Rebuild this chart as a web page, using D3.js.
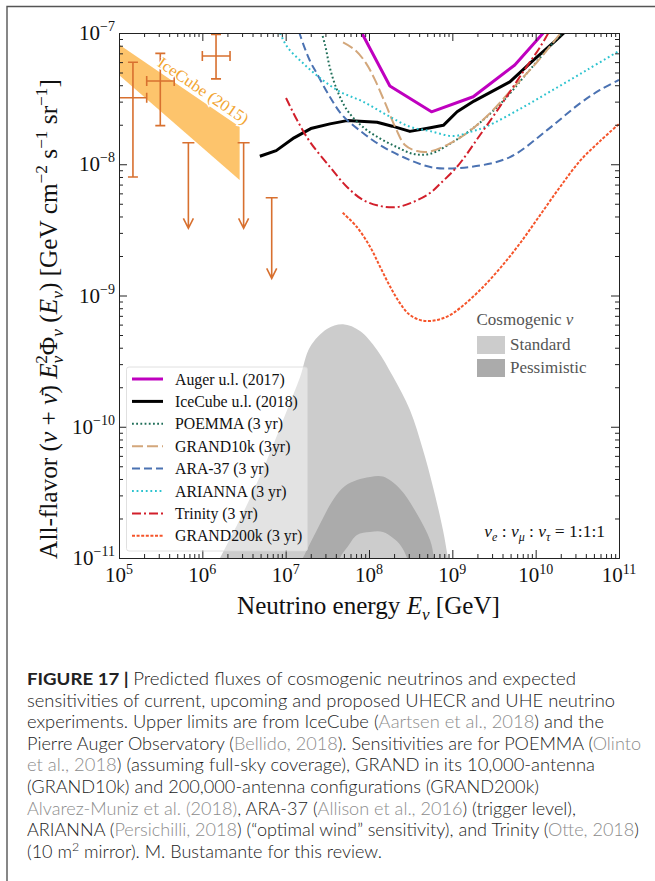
<!DOCTYPE html>
<html><head><meta charset="utf-8">
<script src="https://cdn.jsdelivr.net/npm/d3@7/dist/d3.min.js"></script>
<style>body{margin:0;background:#fff}svg{display:block}</style>
</head><body>
<svg id="c" width="655" height="881"></svg>
<script>
// ---------------- DATA ----------------
const xMajorTicks = [1e5,1e6,1e7,1e8,1e9,1e10,1e11];
const xTickExp = ["5","6","7","8","9","10","11"];
const yMajorTicks = [1e-11,1e-10,1e-9,1e-8,1e-7];
const yTickExp = ["−11","−10","−9","−8","−7"];

const auger = [[5.6e7,1.58e-7],[1.78e8,3.95e-8],[5.62e8,2.51e-8],[1.78e9,3.27e-8],[5.62e9,5.7e-8],[1.78e10,1.3e-7]];
const icecube18 = [[4.9e6,1.15e-8],[7.7e6,1.27e-8],[1.26e7,1.59e-8],[2.0e7,1.87e-8],[3.4e7,2.03e-8],[5.45e7,2.15e-8],[1.25e8,2.09e-8],[1.9e8,1.95e-8],[3.1e8,1.78e-8],[5.25e8,1.89e-8],[7.8e8,1.98e-8],[1.14e9,2.51e-8],[1.82e9,3.03e-8],[4.9e9,4.24e-8],[9.4e9,6.22e-8],[1.71e10,8.69e-8],[2.6e10,1.11e-7]];
const poemma = [[2.44e7,1.26e-7],[2.97e7,8.1e-8],[3.4e7,5.41e-8],[4.13e7,3.68e-8],[5.45e7,2.59e-8],[8.47e7,1.92e-8],[1.36e8,1.57e-8],[2.17e8,1.35e-8],[3.37e8,1.2e-8],[5.4e8,1.2e-8],[1.02e9,1.48e-8],[1.98e9,1.99e-8],[4.06e9,3.03e-8],[8.1e9,5.05e-8],[1.61e10,8.39e-8],[2.25e10,1.05e-7]];
const grand10k = [[4.88e7,8.47e-8],[6.8e7,7.42e-8],[9.2e7,5.9e-8],[1.18e8,4.39e-8],[1.56e8,2.93e-8],[2.11e8,1.86e-8],[2.7e8,1.4e-8],[3.77e8,1.26e-8],[5.4e8,1.25e-8],[8.6e8,1.4e-8],[1.5e9,1.73e-8],[2.83e9,2.45e-8],[5.35e9,3.81e-8],[1.04e10,6.01e-8],[1.96e10,9.82e-8],[2.44e10,1.15e-7]];
const ara37 = [[1.33e7,1.26e-7],[1.49e7,9.66e-8],[1.96e7,6.12e-8],[2.38e7,4.88e-8],[3.4e7,3.25e-8],[4.88e7,2.33e-8],[8.47e7,1.73e-8],[1.36e8,1.4e-8],[2.56e8,1.135e-8],[5.86e8,9.44e-9],[1.63e9,9.53e-9],[4.92e9,1.135e-8],[1.37e10,1.82e-8],[3.4e10,2.91e-8],[5.92e10,3.68e-8],[1e11,4.39e-8]];
const arianna = [[7.66e6,1.15e-7],[8.55e6,1e-7],[1.04e7,7.87e-8],[1.61e7,5.9e-8],[2.58e7,4.54e-8],[4.49e7,3.57e-8],[8.47e7,3.0e-8],[1.64e8,2.37e-8],[3.1e8,1.93e-8],[5.4e8,1.79e-8],[1.02e9,1.64e-8],[1.63e9,1.76e-8],[2.61e9,1.95e-8],[6.49e9,2.64e-8],[1.61e10,3.68e-8],[4.13e10,5.23e-8],[1e11,7.3e-8]];
const trinity = [[1.01e7,3.2e-8],[1.37e7,2.17e-8],[1.96e7,1.48e-8],[3.4e7,9.53e-9],[5.45e7,6.71e-9],[8.47e7,5.35e-9],[1.36e8,4.81e-9],[2.17e8,4.72e-9],[3.37e8,5.15e-9],[5.4e8,6.04e-9],[7.1e8,7.08e-9],[1.14e9,9.57e-9],[2.15e9,1.67e-8],[4.06e9,2.98e-8],[7.05e9,5.05e-8],[1.13e10,7.82e-8],[1.61e10,1.15e-7]];
const grand200k = [[4.83e7,4.27e-9],[7.11e7,3.34e-9],[1.03e8,2.35e-9],[1.355e8,1.66e-9],[1.79e8,1.17e-9],[2.36e8,8.72e-10],[3.1e8,7.1e-10],[4.45e8,6.43e-10],[6.55e8,6.5e-10],[9.38e8,7.1e-10],[1.24e9,8.03e-10],[2.15e9,1.1e-9],[3.73e9,1.61e-9],[6.49e9,2.5e-9],[1.13e10,4.1e-9],[1.96e10,6.71e-9],[3.4e10,1.06e-8],[5.92e10,1.5e-8],[1e11,2.03e-8]];

const ic15Upper = [[2.5e4,1.49e-7],[2.8e6,1.93e-8]];
const ic15Lower = [[2.5e4,1.03e-7],[2.8e6,7.58e-9]];
const icPointsE = [1.47e5,3.13e5,1.46e6];
const icPointsElo = [1e5,2.15e5,1e6];
const icPointsEhi = [2.15e5,4.6e5,2.15e6];
const icPointsF = [3.21e-8,4.31e-8,6.68e-8];
const icPointsFlo = [8.0e-9,1.97e-8,4.47e-8];
const icPointsFhi = [5.98e-8,7.0e-8,9.77e-8];
const icLimitE = [6.8e5,3.13e6,6.8e6];
const icLimitF = [1.46e-8,1.46e-8,5.56e-9];
const icLimitTip = [3.25e-9,3.25e-9,1.35e-9];

const cosmoStandard = [[9.1e5,4.8e-12],[1.63e6,1e-11],[3.08e6,2.2e-11],[5.97e6,5.58e-11],[1.04e7,1.34e-10],[1.49e7,2.39e-10],[1.96e7,4.05e-10],[3.13e7,5.56e-10],[4.88e7,6.04e-10],[7.8e7,5.37e-10],[1.25e8,3.85e-10],[1.94e8,2.41e-10],[3.1e8,1.34e-10],[4.45e8,6.65e-11],[5.86e8,3.48e-11],[7.73e8,1.63e-11],[8.87e8,1e-11],[1.09e9,4.8e-12]];
const cosmoPessUpper = [[1.04e7,5.7e-12],[1.61e7,1e-11],[2.44e7,1.69e-11],[3.7e7,2.77e-11],[5.15e7,3.54e-11],[7.18e7,3.93e-11],[1.03e8,4.14e-11],[1.47e8,4.17e-11],[2.36e8,3.36e-11],[3.77e8,2.16e-11],[5.4e8,1.37e-11],[6.03e8,1e-11],[6.73e8,5.7e-12]];
const cosmoPessLower = [[3.7e7,5.7e-12],[4.49e7,1e-11],[5.6e7,1.23e-11],[7.18e7,1.5e-11],[1.03e8,1.58e-11],[1.47e8,1.58e-11],[1.94e8,1.42e-11],[2.36e8,1.26e-11],[2.86e8,1e-11],[3.56e8,5.7e-12]];

const seriesNames = ["Auger u.l. (2017)","IceCube u.l. (2018)","POEMMA (3 yr)","GRAND10k (3yr)","ARA-37 (3 yr)","ARIANNA (3 yr)","Trinity (3 yr)","GRAND200k (3 yr)"];
const seriesData = [auger, icecube18, poemma, grand10k, ara37, arianna, trinity, grand200k];
const cosmoLabels = ["Standard","Pessimistic"];

// ---------------- STYLES ----------------
const seriesStyle = [
  {c:"#bf00bf", w:3, dash:null, smooth:false},
  {c:"#000000", w:3, dash:null, smooth:false},
  {c:"#1f6e58", w:2, dash:"1.8,2.4", smooth:true},
  {c:"#d3a77b", w:2, dash:"11,4", smooth:true},
  {c:"#4b72b2", w:2, dash:"8,4", smooth:true},
  {c:"#2cc3cf", w:2, dash:"1.8,2.8", smooth:true},
  {c:"#d21f2b", w:2, dash:"9,3,2,3", smooth:true},
  {c:"#f5542a", w:2, dash:"3,1.6", smooth:true}
];
const SERIF = "'Liberation Serif','Times New Roman',serif";
const SANS = "Lato,'Liberation Sans',Arial,sans-serif";
const icColor = "#d8702f";

const svg = d3.select("#c");
const L=119, R=619, T=33, B=558;
const x = d3.scaleLog().domain([1e5,1e11]).range([L,R]);
const y = d3.scaleLog().domain([1e-11,1e-7]).range([B,T]);

// outer figure frame
svg.append("path").attr("d",`M7,${881}L7,6.5L655,6.5`).attr("fill","none").attr("stroke","#555").attr("stroke-width",1.4);

svg.append("defs").append("clipPath").attr("id","clip").append("rect")
  .attr("x",L).attr("y",T).attr("width",R-L).attr("height",B-T);
const plot = svg.append("g").attr("clip-path","url(#clip)");

// cosmogenic areas
const area = d3.area().x(d=>x(d[0])).y0(y(1e-13)).y1(d=>y(d[1])).curve(d3.curveCatmullRom.alpha(0.5));
plot.append("path").datum(cosmoStandard).attr("d",area).attr("fill","#cccccc");
const poly = d3.line().x(d=>x(d[0])).y(d=>y(d[1]));
const polyS = d3.line().x(d=>x(d[0])).y(d=>y(d[1])).curve(d3.curveCatmullRom.alpha(0.5));
plot.append("path").attr("d", polyS(cosmoPessUpper) + "L" + polyS(cosmoPessLower.slice().reverse()).slice(1) + "Z").attr("fill","#ababab");

// IceCube 2015 band
plot.append("path").attr("d", poly(ic15Upper.concat(ic15Lower.slice().reverse()))+"Z").attr("fill","#fdc46c");

// sensitivity lines
seriesData.forEach((d,i)=>{
  const st = seriesStyle[i];
  const gen = d3.line().x(p=>x(p[0])).y(p=>y(p[1]));
  if (st.smooth) gen.curve(d3.curveCatmullRom.alpha(0.5));
  plot.append("path").datum(d).attr("d",gen).attr("fill","none")
    .attr("stroke",st.c).attr("stroke-width",st.w)
    .attr("stroke-dasharray",st.dash).attr("stroke-linejoin","round");
});

// IceCube points
const eg = svg.append("g").attr("stroke",icColor).attr("stroke-width",1.6).attr("fill","none");
icPointsE.forEach((e,i)=>{
  const cx=x(e), cy=y(icPointsF[i]);
  const x0=x(icPointsElo[i]), x1=x(icPointsEhi[i]);
  const y0=y(icPointsFlo[i]), y1=y(icPointsFhi[i]);
  eg.append("path").attr("d",`M${x0},${cy}H${x1}M${cx},${y0}V${y1}M${cx-5},${y0}H${cx+5}M${cx-5},${y1}H${cx+5}M${x1},${cy-5}V${cy+5}`+(x0>L+1?`M${x0},${cy-5}V${cy+5}`:""));
});
icLimitE.forEach((e,i)=>{
  const cx=x(e), yt=y(icLimitF[i]), yb=y(icLimitTip[i]);
  eg.append("path").attr("d",`M${cx-6},${yt}H${cx+6}M${cx},${yt}V${yb}M${cx-5},${yb-10}L${cx},${yb}L${cx+5},${yb-10}`);
});

// IceCube (2015) label along band top edge
{
  const p1=[x(ic15Upper[0][0]),y(ic15Upper[0][1])], p2=[x(ic15Upper[1][0]),y(ic15Upper[1][1])];
  const ang=Math.atan2(p2[1]-p1[1],p2[0]-p1[0]);
  const lx=x(8.9e5); const t=(lx-p1[0])/(p2[0]-p1[0]); const ly=p1[1]+t*(p2[1]-p1[1]);
  const off=4;
  const px=lx+off*Math.sin(ang), py=ly-off*Math.cos(ang);
  svg.append("text").attr("transform",`translate(${px},${py}) rotate(${ang*180/Math.PI})`)
    .attr("text-anchor","middle").attr("font-family",SERIF).attr("font-size",16)
    .attr("fill","#f2a531").attr("stroke","#fff").attr("stroke-width",2.5).attr("paint-order","stroke")
    .attr("textLength",106).attr("lengthAdjust","spacingAndGlyphs")
    .text("IceCube (2015)");
}

// axes (ticks inward on all sides)
const minorVals = (lo,hi)=>{const a=[];for(let k=lo;k<hi;k++)for(let m=2;m<=9;m++)a.push(m*Math.pow(10,k));return a;};
const xMinor=minorVals(5,11), yMinor=minorVals(-11,-7);
function addAxis(gen, tr, vals, size){
  const g=svg.append("g").attr("transform",tr)
    .call(gen.tickValues(vals).tickSize(size).tickSizeOuter(0).tickFormat(""));
  g.selectAll("line").attr("stroke","#222");
  g.select(".domain").attr("stroke","#222");
  return g;
}
addAxis(d3.axisBottom(x),`translate(0,${B})`,xMajorTicks,-8);
addAxis(d3.axisBottom(x),`translate(0,${B})`,xMinor,-4);
addAxis(d3.axisTop(x),`translate(0,${T})`,xMajorTicks,-8);
addAxis(d3.axisTop(x),`translate(0,${T})`,xMinor,-4);
addAxis(d3.axisLeft(y),`translate(${L},0)`,yMajorTicks,-8);
addAxis(d3.axisLeft(y),`translate(${L},0)`,yMinor,-4);
addAxis(d3.axisRight(y),`translate(${R},0)`,yMajorTicks,-8);
addAxis(d3.axisRight(y),`translate(${R},0)`,yMinor,-4);

// tick labels
xMajorTicks.forEach((v,i)=>{
  const t=svg.append("text").attr("x",x(v)).attr("y",B+24).attr("text-anchor","middle")
    .attr("font-family",SERIF).attr("font-size",21).attr("fill","#111");
  t.append("tspan").text("10");
  t.append("tspan").attr("font-size",14).attr("baseline-shift","8").text(xTickExp[i]);
});
yMajorTicks.forEach((v,i)=>{
  const t=svg.append("text").attr("x",L-4).attr("y",y(v)+7).attr("text-anchor","end")
    .attr("font-family",SERIF).attr("font-size",21).attr("fill","#111");
  t.append("tspan").text("10");
  t.append("tspan").attr("font-size",14).attr("baseline-shift","9").text(yTickExp[i]);
});

function rich(t, parts){
  parts.forEach(p=>{
    const s=t.append("tspan").text(p.t);
    if(p.i) s.attr("font-style","italic");
    if(p.b) s.attr("font-weight","bold");
    if(p.fill) s.attr("fill",p.fill);
    if(p.fs) s.attr("font-size",p.fs);
    if(p.bs!==undefined) s.attr("baseline-shift",p.bs);
    if(p.dx) s.attr("dx",p.dx);
  });
  return t;
}
function fitFont(t, base, target){
  const len=t.node().getComputedTextLength();
  const f=Math.max(0.85,Math.min(1.15,target/len));
  t.attr("font-size",base*f);
  t.selectAll("tspan").each(function(){const fs=d3.select(this).attr("font-size"); if(fs) d3.select(this).attr("font-size",+fs*f);
    const bs=d3.select(this).attr("baseline-shift"); if(bs) d3.select(this).attr("baseline-shift",+bs*f);
    const dx=d3.select(this).attr("dx"); if(dx) d3.select(this).attr("dx",+dx*f);});
}

// axis titles
const xt = svg.append("text").attr("x",(237+500)/2).attr("y",614).attr("text-anchor","middle")
  .attr("font-family",SERIF).attr("font-size",22).attr("fill","#111");
rich(xt,[{t:"Neutrino energy "},{t:"E",i:1},{t:"ν",i:1,fs:15,bs:-5},{t:" [GeV]"}]);
fitFont(xt,22,263);

const yt = svg.append("text").attr("transform","translate(57,319) rotate(-90)").attr("text-anchor","middle")
  .attr("font-family",SERIF).attr("font-size",22).attr("fill","#111");
rich(yt,[{t:"All-flavor ("},{t:"ν",i:1},{t:" + "},{t:"ν̄",i:1},{t:") "},{t:"E",i:1},
  {t:"ν",i:1,fs:15,bs:-5},{t:"2",fs:15,bs:9,dx:-7},{t:"Φ"},{t:"ν",i:1,fs:15,bs:-5},{t:" ("},{t:"E",i:1},{t:"ν",i:1,fs:15,bs:-5},
  {t:") [GeV cm"},{t:"−2",fs:15,bs:9},{t:" s"},{t:"−1",fs:15,bs:9},{t:" sr"},{t:"−1",fs:15,bs:9},{t:"]"}]);
fitFont(yt,22,538);

// legend
const lg = svg.append("g");
lg.append("rect").attr("x",126.5).attr("y",367).attr("width",181).attr("height",184).attr("rx",2.5)
  .attr("fill","#fff").attr("fill-opacity",0.45).attr("stroke","#d8d8d8").attr("stroke-width",0.8);
seriesNames.forEach((n,i)=>{
  const st=seriesStyle[i]; const cy=379+i*22.4;
  lg.append("line").attr("x1",132).attr("x2",163).attr("y1",cy).attr("y2",cy)
    .attr("stroke",st.c).attr("stroke-width",st.w).attr("stroke-dasharray",st.dash);
  lg.append("text").attr("x",175).attr("y",cy+5.5).attr("font-family",SERIF).attr("font-size",15.8)
    .attr("fill","#111").text(n);
});

// cosmogenic legend
svg.append("text").attr("x",476.5).attr("y",325).attr("font-family",SERIF).attr("font-size",17).attr("fill","#555")
  .call(t=>rich(t,[{t:"Cosmogenic "},{t:"ν",i:1}]));
const cosmoColors=["#cccccc","#ababab"];
cosmoLabels.forEach((n,i)=>{
  const ty=336+i*23;
  svg.append("rect").attr("x",477).attr("y",ty).attr("width",28).attr("height",18).attr("fill",cosmoColors[i]);
  svg.append("text").attr("x",510).attr("y",ty+14).attr("font-family",SERIF).attr("font-size",17).attr("fill","#555").text(n);
});

// flavour ratio
const fr = svg.append("text").attr("x",605).attr("y",537).attr("text-anchor","end")
  .attr("font-family",SERIF).attr("font-size",17.5).attr("fill","#111");
rich(fr,[{t:"ν",i:1},{t:"e",i:1,fs:12,bs:-4},{t:" : "},{t:"ν",i:1},{t:"μ",i:1,fs:12,bs:-4},{t:" : "},{t:"ν",i:1},{t:"τ",i:1,fs:12,bs:-4},{t:" = 1:1:1"}]);

// caption
const GR="#8c8c8c";
const captionLines = [
 [{t:"FIGURE 17 | ",b:1},{t:"Predicted fluxes of cosmogenic neutrinos and expected"}],
 [{t:"sensitivities of current, upcoming and proposed UHECR and UHE neutrino"}],
 [{t:"experiments. Upper limits are from IceCube ("},{t:"Aartsen et al., 2018",fill:GR},{t:") and the"}],
 [{t:"Pierre Auger Observatory ("},{t:"Bellido, 2018",fill:GR},{t:"). Sensitivities are for POEMMA ("},{t:"Olinto",fill:GR}],
 [{t:"et al., 2018",fill:GR},{t:") (assuming full-sky coverage), GRAND in its 10,000-antenna"}],
 [{t:"(GRAND10k) and 200,000-antenna configurations (GRAND200k)"}],
 [{t:"Alvarez-Muniz et al. (2018)",fill:GR},{t:", ARA-37 ("},{t:"Allison et al., 2016",fill:GR},{t:") (trigger level),"}],
 [{t:"ARIANNA ("},{t:"Persichilli, 2018",fill:GR},{t:") (“optimal wind” sensitivity), and Trinity ("},{t:"Otte, 2018",fill:GR},{t:")"}],
 [{t:"(10 m"},{t:"2",fs:12,bs:7},{t:" mirror). M. Bustamante for this review."}]
];
const captionWidths=[549,588,577,614,568,512,549,612,355];
captionLines.forEach((ln,i)=>{
  const t=svg.append("text").attr("x",27).attr("y",685+i*21.6).attr("font-family",SANS)
    .attr("font-size",17.5).attr("font-weight",300).attr("fill","#222");
  rich(t,ln);
  t.attr("textLength",captionWidths[i]).attr("lengthAdjust","spacingAndGlyphs");
});
</script>
</body></html>
